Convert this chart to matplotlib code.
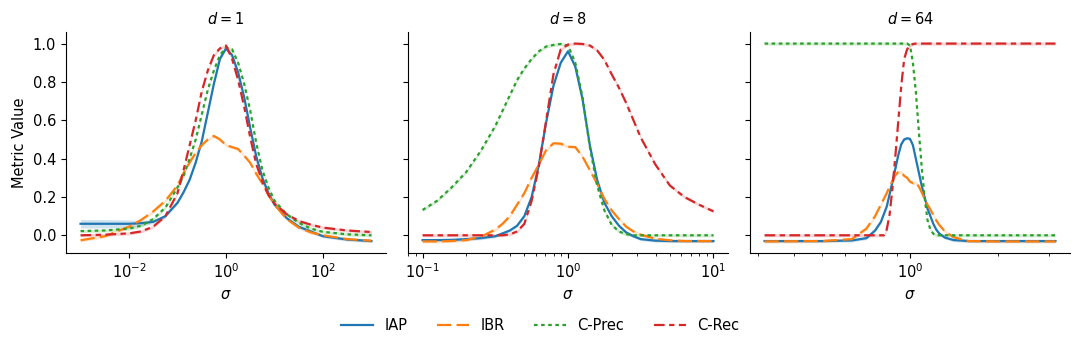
import numpy as np
import matplotlib
matplotlib.use("Agg")
import matplotlib.pyplot as plt
from matplotlib.ticker import NullLocator, FixedLocator

# ---------------- data (log10 sigma grids + metric values) ----------------
titles = [r"$d = 1$", r"$d = 8$", r"$d = 64$"]
series_names = ["IAP", "IBR", "C-Prec", "C-Rec"]

log_sigma_d1 = [-3, -2.5, -2, -1.75, -1.5, -1.25, -1, -0.875, -0.75, -0.625, -0.5,
                -0.375, -0.25, -0.125, 0, 0.125, 0.25, 0.375, 0.5, 0.625, 0.75,
                0.875, 1, 1.25, 1.5, 1.75, 2, 2.5, 3]
iap_d1 = [0.06, 0.06, 0.06, 0.063, 0.07, 0.10, 0.17, 0.225, 0.29, 0.38, 0.49,
          0.64, 0.79, 0.92, 0.975, 0.94, 0.85, 0.72, 0.56, 0.41, 0.30,
          0.22, 0.16, 0.09, 0.045, 0.02, -0.005, -0.022, -0.03]
ibr_d1 = [-0.026, -0.005, 0.045, 0.08, 0.125, 0.18, 0.26, 0.325, 0.38, 0.43, 0.47,
          0.50, 0.518, 0.50, 0.47, 0.46, 0.45, 0.415, 0.378, 0.32, 0.27,
          0.21, 0.16, 0.085, 0.04, 0.015, 0.0, -0.02, -0.028]
cprec_d1 = [0.022, 0.025, 0.035, 0.05, 0.085, 0.145, 0.25, 0.31, 0.40, 0.50, 0.63,
            0.76, 0.86, 0.94, 0.98, 0.97, 0.90, 0.79, 0.65, 0.48, 0.34,
            0.25, 0.18, 0.11, 0.065, 0.035, 0.018, 0.005, 0.0]
crec_d1 = [0.0, 0.003, 0.01, 0.02, 0.045, 0.10, 0.22, 0.34, 0.47, 0.60, 0.75,
           0.86, 0.94, 0.975, 0.99, 0.92, 0.81, 0.67, 0.51, 0.37, 0.28,
           0.21, 0.165, 0.11, 0.075, 0.055, 0.04, 0.025, 0.017]

log_sigma_d8 = [-1, -0.9, -0.8, -0.7, -0.6, -0.5, -0.45, -0.4, -0.35, -0.3, -0.25,
                -0.2, -0.15, -0.1, -0.05, 0, 0.05, 0.1, 0.15, 0.2, 0.25, 0.3,
                0.35, 0.4, 0.45, 0.5, 0.6, 0.7, 0.8, 0.9, 1.0]
iap_d8 = [-0.025, -0.025, -0.024, -0.02, -0.015, -0.005, 0.01, 0.025, 0.05, 0.10, 0.20,
          0.37, 0.59, 0.78, 0.90, 0.96, 0.88, 0.71, 0.47, 0.29, 0.17, 0.10,
          0.05, 0.015, -0.005, -0.02, -0.028, -0.03, -0.03, -0.03, -0.03]
ibr_d8 = [-0.032, -0.032, -0.03, -0.025, -0.008, 0.03, 0.06, 0.10, 0.16, 0.22, 0.30,
          0.37, 0.445, 0.48, 0.478, 0.462, 0.46, 0.41, 0.34, 0.27, 0.19, 0.13,
          0.085, 0.045, 0.02, 0.003, -0.018, -0.026, -0.03, -0.03, -0.03]
cprec_d8 = [0.132, 0.18, 0.25, 0.33, 0.44, 0.57, 0.65, 0.73, 0.81, 0.87, 0.92,
            0.96, 0.985, 0.993, 0.998, 0.99, 0.90, 0.72, 0.46, 0.26, 0.13, 0.055,
            0.02, 0.006, 0.0, 0.0, 0.0, 0.0, 0.0, 0.0, 0.0]
crec_d8 = [0.0, 0.0, 0.0, 0.0, 0.0, 0.0, 0.0, 0.005, 0.02, 0.06, 0.18,
           0.36, 0.60, 0.84, 0.97, 0.995, 1.0, 0.998, 0.99, 0.965, 0.915, 0.84,
           0.77, 0.69, 0.60, 0.51, 0.37, 0.26, 0.20, 0.16, 0.125]

log_sigma_d64 = [-0.5, -0.3, -0.2, -0.15, -0.12, -0.1, -0.09, -0.08, -0.07, -0.06, -0.05,
                 -0.04, -0.03, -0.02, -0.01, 0.0, 0.01, 0.02, 0.03, 0.04, 0.05,
                 0.06, 0.07, 0.08, 0.09, 0.1, 0.12, 0.15, 0.2, 0.3, 0.5]
iap_d64 = [-0.03, -0.03, -0.027, -0.015, 0.025, 0.07, 0.11, 0.15, 0.215, 0.28, 0.35,
           0.42, 0.475, 0.50, 0.506, 0.503, 0.47, 0.40, 0.33, 0.26, 0.20,
           0.14, 0.10, 0.06, 0.03, 0.01, -0.012, -0.025, -0.03, -0.03, -0.03]
ibr_d64 = [-0.032, -0.03, -0.02, 0.035, 0.10, 0.16, 0.19, 0.22, 0.255, 0.285, 0.315,
           0.33, 0.33, 0.31, 0.30, 0.28, 0.272, 0.275, 0.255, 0.225, 0.19,
           0.16, 0.135, 0.105, 0.078, 0.055, 0.02, -0.01, -0.03, -0.032, -0.032]
cprec_d64 = [1.0, 1.0, 1.0, 1.0, 1.0, 1.0, 1.0, 1.0, 1.0, 1.0, 1.0,
             1.0, 1.0, 1.0, 1.0, 0.99, 0.90, 0.75, 0.55, 0.36, 0.20,
             0.08, 0.03, 0.008, 0.0, 0.0, 0.0, 0.0, 0.0, 0.0, 0.0]
crec_d64 = [0.0, 0.0, 0.0, 0.0, 0.0, 0.0, 0.0, 0.03, 0.11, 0.25, 0.42,
            0.60, 0.78, 0.92, 0.97, 0.99, 0.998, 1.0, 1.0, 1.0, 1.0,
            1.0, 1.0, 1.0, 1.0, 1.0, 1.0, 1.0, 1.0, 1.0, 1.0]

# confidence half-widths
iap_d1_ci = [0.022, 0.022, 0.02, 0.015, 0.01, 0.008, 0.008, 0.008, 0.008, 0.008, 0.008,
             0.008, 0.008, 0.008, 0.008, 0.008, 0.008, 0.008, 0.008, 0.008, 0.008,
             0.008, 0.008, 0.008, 0.008, 0.008, 0.008, 0.008, 0.008]
default_ci = 0.008

panels = [
    (log_sigma_d1, [iap_d1, ibr_d1, cprec_d1, crec_d1]),
    (log_sigma_d8, [iap_d8, ibr_d8, cprec_d8, crec_d8]),
    (log_sigma_d64, [iap_d64, ibr_d64, cprec_d64, crec_d64]),
]

colors = ["#1f77b4", "#ff7f0e", "#2ca02c", "#d62728"]
# seaborn-style dash patterns (in units of linewidth)
dash_patterns = [None, (4, 1.5), (1, 1), (3, 1.25, 1.5, 1.25)]
lw = 1.6

plt.rcParams["font.family"] = ["DejaVu Sans"]
plt.rcParams["font.size"] = 10.5

fig = plt.figure(figsize=(10.8, 3.52), dpi=100)
lefts = [66, 408, 750]
width = 320
bottom_px, top_px = 253, 32
axes = []
for i, lp in enumerate(lefts):
    ax = fig.add_axes([lp / 1080, 1 - bottom_px / 352, width / 1080,
                       (bottom_px - top_px) / 352],
                      sharey=axes[0] if axes else None)
    axes.append(ax)

for i, (ax, (lx, vals)) in enumerate(zip(axes, panels)):
    sig = np.power(10.0, np.asarray(lx, dtype=float))
    for j, (v, c, dp, name) in enumerate(zip(vals, colors, dash_patterns, series_names)):
        v = np.asarray(v, dtype=float)
        ci = np.asarray(iap_d1_ci) if (i == 0 and j == 0) else default_ci
        ax.fill_between(sig, v - ci, v + ci, color=c, alpha=0.2, linewidth=0)
        if dp is None:
            ax.plot(sig, v, color=c, linestyle="-", linewidth=lw, label=name)
        else:
            ax.plot(sig, v, color=c, linestyle=(0, tuple(d * lw for d in dp)),
                    linewidth=lw, label=name)
    ax.set_xscale("log")
    ax.set_title(titles[i], fontsize=10.5)
    ax.set_xlabel(r"$\sigma$")
    for s in ["top", "right"]:
        ax.spines[s].set_visible(False)
    ax.tick_params(direction="out")
    if i > 0:
        ax.tick_params(labelleft=False)

axes[0].xaxis.set_major_locator(FixedLocator([1e-2, 1e0, 1e2]))
axes[0].xaxis.set_minor_locator(NullLocator())

axes[0].set_ylabel("Metric Value")
axes[0].set_yticks([0.0, 0.2, 0.4, 0.6, 0.8, 1.0])

handles, labels = axes[0].get_legend_handles_labels()
fig.legend(handles, labels, loc="center", bbox_to_anchor=(0.5, 1 - 326 / 352),
           ncol=4, frameon=False, handlelength=2.2, columnspacing=2.0)

fig.savefig("out.png", dpi=100)
